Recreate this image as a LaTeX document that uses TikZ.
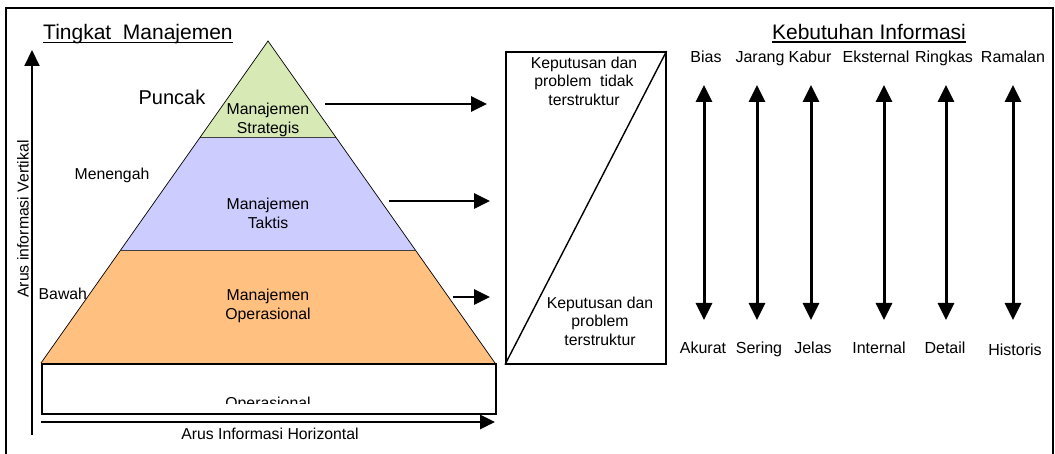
\documentclass[tikz,border=0pt]{standalone}
\usepackage{fontspec}
\setmainfont{Liberation Sans}
\usetikzlibrary{arrows.meta}
\definecolor{stratfill}{HTML}{D7E9B4}
\definecolor{taktfill}{HTML}{CCCCFF}
\definecolor{operfill}{HTML}{FFC080}

\begin{document}
\begin{tikzpicture}[x=1pt,y=-1pt,
  lbl/.style={font=\fontsize{15.8}{18.5}\selectfont, align=center, inner sep=0pt},
  need/.style={font=\fontsize{16}{19}\selectfont, inner sep=0pt, anchor=base},
  head/.style={font=\fontsize{21}{24}\selectfont, inner sep=0pt},
  flowarrow/.style={line width=2.8pt, -{Triangle[width=15pt,length=16pt]}},
  needarrow/.style={line width=3pt, {Triangle[width=16pt,length=17pt]}-{Triangle[width=16pt,length=17pt]}},
  band/.style={draw=black!75, line width=0.9pt},
]
\useasboundingbox (0,0) rectangle (1055,454);

% outer frame
\draw[line width=1.6pt] (6,8) rectangle (1053,470);

% ---------- management pyramid ----------
\coordinate (apex) at (268,41);
\coordinate (gL) at (200.3,137);
\coordinate (gR) at (335.7,137);
\coordinate (bL) at (120.6,250);
\coordinate (bR) at (415.4,250);
\coordinate (oL) at (41,363);
\coordinate (oR) at (495,363);

\fill[operfill] (bL) -- (bR) -- (oR) -- (oL) -- cycle;
\fill[taktfill] (gL) -- (gR) -- (bR) -- (bL) -- cycle;
\fill[stratfill] (apex) -- (gR) -- (gL) -- cycle;
\draw[band] (gL) -- (gR) (bL) -- (bR);
\draw[line width=0.7pt, line join=miter] (oL) -- (apex) -- (oR);

\node[lbl] (strat) at (268,120) {Manajemen\\Strategis};
\node[lbl] (takt) at (268,213.5) {Manajemen\\Taktis};
\node[lbl] (oper) at (268,306) {Manajemen\\Operasional};

% operational base
\node[draw, line width=1.6pt, fill=white, inner sep=0pt, minimum width=454pt,
      minimum height=50pt, anchor=north west] (base) at (oL) {};
\begin{scope}
  \clip (41,364) rectangle (495,403);
  \node[lbl, anchor=base] (baselbl) at (268,408.5) {Operasional};
\end{scope}

% level names
\node[head, anchor=base west] (tm) at (43,39.5) {Tingkat\ \ Manajemen};
\draw[line width=1.2pt] ([yshift=-2.8pt]tm.base west) -- ([yshift=-2.8pt]tm.base east);
\node[font=\fontsize{20}{24}\selectfont, inner sep=0pt, anchor=base] (puncak) at (172,105) {Puncak};
\node[lbl, anchor=base] (menengah) at (112,179.5) {Menengah};
\node[lbl, anchor=base west] (bawah) at (38.5,299.5) {Bawah};

% information flow axes
\coordinate (vS) at (32,435);
\coordinate (vE) at (32,50);
\draw[line width=2pt, -{Triangle[width=15pt,length=16pt]}] (vS) -- (vE);
\node[lbl, rotate=90] (vlbl) at (23,219) {Arus informasi Vertikal};

\coordinate (hS) at (41,422);
\coordinate (hE) at (495,422);
\draw[line width=2.6pt, -{Triangle[width=14pt,length=15pt]}] (hS) -- (hE);
\node[lbl] (hlbl) at (270,434) {Arus Informasi Horizontal};

% arrows from each level to the decision box
\coordinate (a1s) at (325,104); \coordinate (a1e) at (487,104);
\coordinate (a2s) at (389,201); \coordinate (a2e) at (490,201);
\coordinate (a3s) at (453,297); \coordinate (a3e) at (490,297);
\draw[flowarrow] (a1s) -- (a1e);
\draw[flowarrow] (a2s) -- (a2e);
\draw[flowarrow] (a3s) -- (a3e);

% decision box
\node[draw, line width=1.6pt, inner sep=0pt, minimum width=160pt,
      minimum height=312pt, anchor=north west] (dbox) at (505,51) {};
\draw[line width=1.4pt] (dbox.south west) -- (dbox.north east);
\node[lbl] (unstr) at (584,81) {Keputusan dan\\problem\ \ tidak\\terstruktur};
\node[lbl] (str) at (600,321) {Keputusan dan\\problem\\terstruktur};

% information requirements
\node[head, anchor=base] (kebutuhan) at (869,39.5) {Kebutuhan Informasi};
\draw[line width=1.2pt] ([yshift=-2.6pt]kebutuhan.base west) -- ([yshift=-2.6pt]kebutuhan.base east);

\foreach \x/\hi/\hx/\lo/\lx/\ly [count=\i] in
  {704/Bias/706/Akurat/703/353,
   757/Jarang/760/Sering/759/353,
   811/Kabur/810/Jelas/813/353,
   884/Eksternal/876/Internal/879/353,
   946/Ringkas/944/Detail/945/353,
   1013/Ramalan/1013/Historis/1015/355.5}{
  \coordinate (r\i t) at (\x,85);
  \coordinate (r\i b) at (\x,320);
  \draw[needarrow] (r\i t) -- (r\i b);
  \node[need] (t\i) at (\hx,63) {\hi};
  \node[need] (b\i) at (\lx,\ly) {\lo};
}
\end{tikzpicture}
\end{document}
